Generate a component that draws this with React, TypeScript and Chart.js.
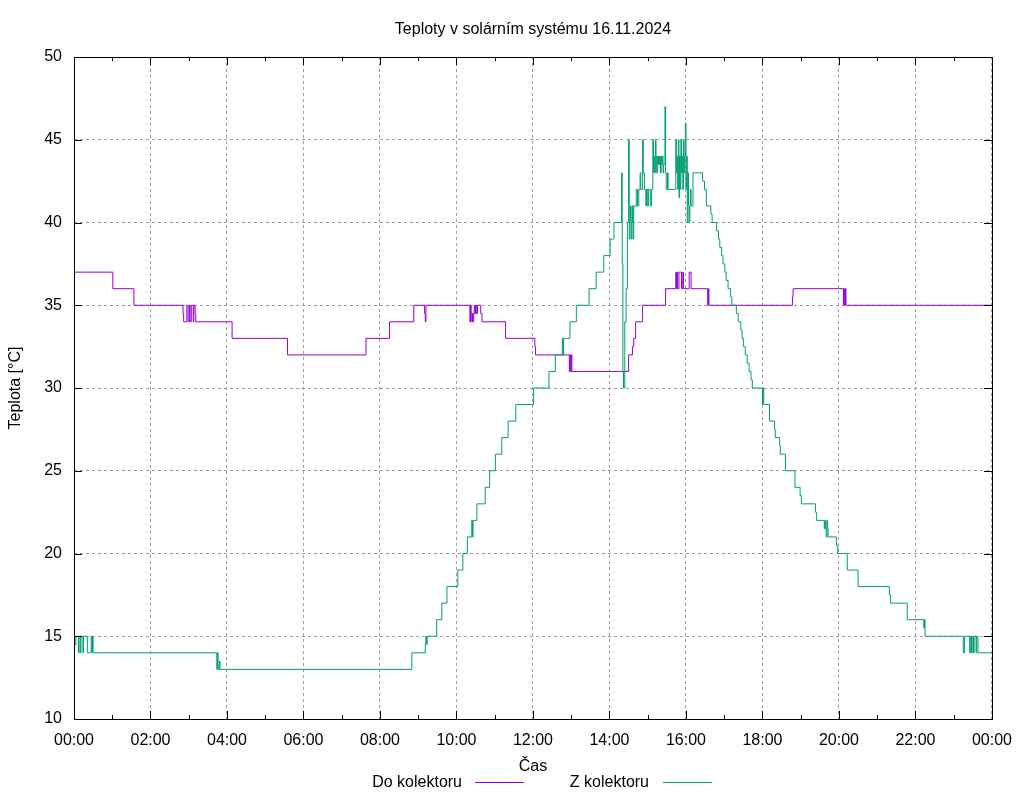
import { useEffect, useRef } from 'react';
import { Chart, registerables } from 'chart.js';

Chart.register(...registerables);

const TITLE = 'Teploty v solárním systému 16.11.2024';
const X_TITLE = 'Čas';
const Y_TITLE = 'Teplota [°C]';
const SERIES_NAMES = ['Do kolektoru', 'Z kolektoru'];
const SERIES_COLORS = ['#9400d3', '#009e73'];
const X_TICK_LABELS = ['00:00', '02:00', '04:00', '06:00', '08:00', '10:00', '12:00', '14:00', '16:00', '18:00', '20:00', '22:00', '00:00'];
const Y_TICK_VALUES = [10, 15, 20, 25, 30, 35, 40, 45, 50];

// time in minutes from midnight, value in °C (value holds from this time on)
const DO_TIMES = [
  0, 61, 94,
  171, 172, 177, 179, 181, 182, 184, 187, 188, 190, 191,
  248, 335, 458, 495, 533,
  550, 551, 552,
  621, 622, 623, 624, 625, 626, 627, 628, 629, 630, 631, 633, 638, 640,
  677, 723, 724,
  777, 778, 779, 780, 781,
  870, 876, 878, 881, 892,
  928, 944, 945, 946, 947, 949, 953, 955, 956, 965, 968,
  994, 995, 996,
  1127, 1128,
  1207, 1208, 1209, 1210, 1211,
  1440,
];
const DO_VALUES = [
  37, 36, 35,
  34.5, 34, 35, 34, 35, 34, 35, 34, 35, 34.5, 34,
  33, 32, 33, 34, 35,
  34.5, 34, 35,
  34, 35, 34.5, 34, 34.5, 34, 34.5, 35, 34.5, 35, 34.5, 35, 34.5, 34,
  33, 32.5, 32,
  31, 32, 31, 32, 31,
  32, 32.5, 33, 34, 35,
  36, 37, 36, 37, 36, 37, 36, 37, 36, 37, 36,
  35, 36, 35,
  35.5, 36,
  35, 36, 35, 36, 35,
  35,
];

const Z_TIMES = [
  0, 1, 3, 7, 8, 10, 11, 14, 15, 21, 27, 28, 29, 30,
  224, 225, 226, 228, 229,
  530, 551, 552, 553, 554,
  569, 577, 585, 602, 610, 617, 624, 625, 626, 632, 645, 652, 661, 671, 681, 693, 721,
  745, 755, 766, 767, 768, 778, 788, 808, 819, 831, 841, 847,
  859, 860, 861, 862, 864, 866, 868, 870, 871, 872, 873, 874, 875, 876, 877, 878,
  882, 884, 886, 888, 889, 892, 893, 895, 897, 898, 900, 901, 904, 906,
  908, 909, 910, 911, 912, 913, 914, 915, 916, 917, 918, 919, 920, 921, 922, 923, 924, 925,
  927, 928, 929, 931, 932,
  944, 945, 946, 947, 948, 949, 950, 951, 952, 953, 954, 955, 956, 957, 958, 959, 960,
  961, 962, 963, 964, 965, 966, 967, 968, 971,
  986, 989, 992, 999, 1001, 1008, 1011, 1013, 1016, 1018, 1021, 1023, 1026, 1030, 1032,
  1039, 1042, 1046, 1048, 1050, 1053, 1056, 1059, 1062, 1064,
  1080, 1081, 1082, 1091, 1099, 1100, 1107, 1108, 1116, 1131, 1139, 1141, 1163, 1165,
  1177, 1178, 1179, 1180, 1181, 1182, 1183, 1196, 1198, 1213, 1230, 1279, 1281, 1307,
  1333, 1334, 1335,
  1395, 1397, 1405, 1406, 1408, 1409, 1411, 1412, 1415, 1416, 1418,
  1440,
];
const Z_VALUES = [
  15, 14.5, 15, 14, 15, 14, 15, 14, 15, 14, 15, 14, 15, 14,
  13, 14, 13, 13.5, 13,
  14, 14.5, 15, 14.5, 15,
  16, 17, 18, 19, 20, 21, 22, 21, 22, 23, 24, 25, 26, 27, 28, 29, 30,
  31, 32, 33, 32, 33, 34, 35, 36, 37, 38, 39, 40,
  43, 37.5, 31, 30, 34, 36, 40, 45, 39, 40, 41, 39, 40, 41, 39, 41,
  42, 41, 42, 43, 42, 45, 43, 42, 41, 42, 41, 42, 41, 42,
  45, 43, 44, 43, 45, 44, 43, 44, 43.5, 44, 43.5, 44, 43, 44, 43.5, 44, 43, 43.5,
  47, 43, 42, 43, 42,
  45, 43, 44, 42, 45, 41.5, 44, 42, 45, 43, 44, 42, 45, 43, 44, 46, 42,
  44, 40, 43, 41, 40, 41, 42, 41, 43,
  42.5, 42, 41, 40.5, 40, 39.5, 39, 38.5, 38, 37.5, 37, 36.5, 36, 35.5, 35,
  34.5, 34, 33.5, 33, 32.5, 32, 31.5, 31, 30.5, 30,
  29, 30, 29, 28, 27.5, 27, 26.5, 26, 25, 24, 23.5, 23, 22.5, 22,
  21.5, 22, 21.5, 21, 22, 21.5, 21, 20.5, 20, 19, 18, 17.5, 17, 16,
  15.5, 16, 15,
  14, 15, 14, 15, 14, 15, 14, 15, 14, 15, 14,
  14,
];

const FONT_FAMILY = '"Liberation Sans", Arial, Helvetica, sans-serif';
const FONT_SIZE = 16;

const decorPlugin = {
  id: 'gnuplotDecor',
  afterDatasetsDraw(chart: any) {
    const { ctx, chartArea, scales } = chart;
    const { left, right, top, bottom } = chartArea;
    const x = scales.x;
    const y = scales.y;
    ctx.save();
    ctx.strokeStyle = '#000000';
    ctx.lineWidth = 1;
    ctx.setLineDash([]);
    ctx.beginPath();
    for (let h = 0; h <= 24; h++) {
      const px = Math.round(x.getPixelForValue(h * 60)) + 0.5;
      const len = h % 2 === 0 ? 8 : 4;
      ctx.moveTo(px, bottom);
      ctx.lineTo(px, bottom - len);
      ctx.moveTo(px, top);
      ctx.lineTo(px, top + len);
    }
    for (const v of Y_TICK_VALUES) {
      const py = Math.round(y.getPixelForValue(v)) + 0.5;
      ctx.moveTo(left, py);
      ctx.lineTo(left + 8, py);
      ctx.moveTo(right, py);
      ctx.lineTo(right - 8, py);
    }
    ctx.stroke();
    ctx.strokeRect(Math.round(left) + 0.5, Math.round(top) + 0.5, Math.round(right - left), Math.round(bottom - top));
    ctx.restore();
  },
  afterDraw(chart: any) {
    const { ctx, chartArea } = chart;
    const { left, right } = chartArea;
    ctx.save();
    ctx.fillStyle = '#000000';
    ctx.font = `${FONT_SIZE}px ${FONT_FAMILY}`;
    ctx.textBaseline = 'alphabetic';
    ctx.textAlign = 'center';
    ctx.fillText(TITLE, (left + right) / 2, 34);

    // legend (gnuplot style: text, then line sample)
    const entries = [
      { textRight: 462, lineX0: 475, lineX1: 524 },
      { textRight: 649, lineX0: 663, lineX1: 712 },
    ];
    entries.forEach((e, i) => {
      ctx.textAlign = 'right';
      ctx.fillStyle = '#000000';
      ctx.fillText(SERIES_NAMES[i], e.textRight, 787);
      ctx.strokeStyle = SERIES_COLORS[i];
      ctx.lineWidth = 1;
      ctx.beginPath();
      ctx.moveTo(e.lineX0, 782.5);
      ctx.lineTo(e.lineX1, 782.5);
      ctx.stroke();
    });
    ctx.restore();
  },
};

export default function App() {
  const canvasRef = useRef<HTMLCanvasElement | null>(null);

  useEffect(() => {
    document.body.style.margin = '0';
    document.body.style.overflow = 'hidden';
    const canvas = canvasRef.current;
    if (!canvas) return;

    const doData = DO_TIMES.map((t, i) => ({ x: t, y: DO_VALUES[i] }));
    const zData = Z_TIMES.map((t, i) => ({ x: t, y: Z_VALUES[i] }));

    const chart = new Chart(canvas, {
      type: 'line',
      data: {
        datasets: [
          {
            label: SERIES_NAMES[0],
            data: doData,
            borderColor: SERIES_COLORS[0],
            backgroundColor: SERIES_COLORS[0],
            borderWidth: 1,
            pointRadius: 0,
            stepped: true,
            fill: false,
            order: 1,
          },
          {
            label: SERIES_NAMES[1],
            data: zData,
            borderColor: SERIES_COLORS[1],
            backgroundColor: SERIES_COLORS[1],
            borderWidth: 1,
            pointRadius: 0,
            stepped: true,
            fill: false,
            order: 0,
          },
        ],
      },
      options: {
        animation: false,
        responsive: false,
        devicePixelRatio: 1,
        layout: { padding: { left: 0, right: 31, top: 57, bottom: 0 } },
        plugins: {
          legend: { display: false },
          title: { display: false },
          tooltip: { enabled: false },
        },
        scales: {
          x: {
            type: 'linear',
            min: 0,
            max: 1440,
            afterFit: (scale: any) => {
              scale.height = 81;
            },
            ticks: {
              stepSize: 120,
              autoSkip: false,
              maxRotation: 0,
              minRotation: 0,
              padding: 12,
              color: '#000000',
              font: { family: FONT_FAMILY, size: FONT_SIZE },
              callback: (value: any) => {
                const idx = Math.round(Number(value) / 120);
                return X_TICK_LABELS[idx] ?? '';
              },
            },
            grid: {
              color: '#a0a0a0',
              lineWidth: 1,
              drawTicks: false,
            },
            border: { display: false, dash: [3, 3] },
            title: {
              display: true,
              text: X_TITLE,
              color: '#000000',
              font: { family: FONT_FAMILY, size: FONT_SIZE },
              padding: { top: 0, bottom: 24 },
            },
          },
          y: {
            type: 'linear',
            min: 10,
            max: 50,
            afterFit: (scale: any) => {
              scale.width = 74;
            },
            ticks: {
              stepSize: 5,
              padding: 12,
              color: '#000000',
              font: { family: FONT_FAMILY, size: FONT_SIZE },
            },
            grid: {
              color: '#a0a0a0',
              lineWidth: 1,
              drawTicks: false,
            },
            border: { display: false, dash: [3, 3] },
            title: {
              display: true,
              text: Y_TITLE,
              color: '#000000',
              font: { family: FONT_FAMILY, size: FONT_SIZE },
              padding: { top: 6, bottom: 0 },
            },
          },
        },
      },
      plugins: [decorPlugin],
    });

    return () => {
      chart.destroy();
    };
  }, []);

  return (
    <div style={{ width: 1024, height: 800 }}>
      <canvas ref={canvasRef} width={1024} height={800} style={{ display: 'block' }} />
    </div>
  );
}
